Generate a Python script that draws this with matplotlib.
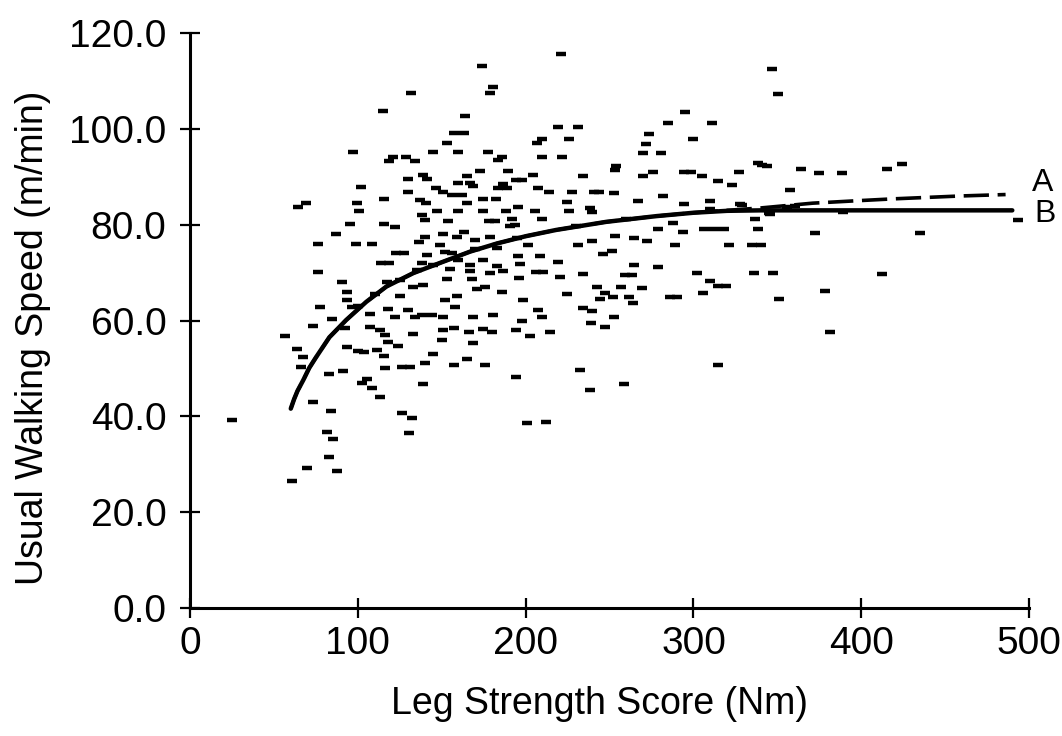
import numpy as np
import matplotlib
matplotlib.use("Agg")
import matplotlib.pyplot as plt

plt.rcParams['font.family'] = ['Liberation Sans', 'DejaVu Sans']

# (leg strength Nm, usual walking speed m/min)
subjects = [
    (173.8, 113.2), (180.8, 108.7), (178.8, 107.5), (131.7, 107.5), (115.2, 103.8), (163.9, 102.6),
    (157.5, 99.2), (163.0, 99.2), (153.0, 97.0), (97.0, 95.1), (145.0, 95.1), (159.5, 95.1),
    (177.8, 95.1), (120.8, 94.1), (118.8, 93.2), (128.7, 94.2), (134.1, 93.2), (183.7, 93.5),
    (172.8, 91.2), (138.7, 90.4), (141.0, 89.5), (130.1, 89.5), (164.9, 90.2), (166.9, 88.7),
    (168.8, 88.0), (159.5, 88.7), (101.7, 87.8), (146.6, 87.6), (151.0, 86.9), (156.0, 86.2),
    (161.9, 86.2), (183.7, 87.7), (130.1, 86.9), (115.8, 85.3), (137.1, 85.2), (140.6, 84.5),
    (174.8, 85.3), (182.4, 85.3), (164.9, 84.5), (64.6, 83.6), (69.1, 84.5), (99.7, 84.5),
    (100.9, 82.9), (147.0, 82.9), (159.5, 82.9), (174.8, 82.9), (138.1, 82.0), (140.0, 81.0),
    (153.6, 80.8), (178.0, 80.8), (181.5, 80.8), (95.0, 80.2), (115.8, 80.2), (122.2, 79.5),
    (220.9, 115.6), (219.1, 100.3), (231.0, 100.3), (209.6, 97.8), (206.6, 97.0), (225.9, 98.0),
    (209.6, 94.1), (221.9, 94.1), (185.8, 94.1), (189.7, 91.2), (204.6, 90.3), (194.5, 89.4),
    (198.0, 89.4), (186.7, 88.5), (188.7, 87.7), (207.6, 87.6), (213.9, 86.8), (227.8, 86.8),
    (241.0, 86.8), (243.8, 86.8), (252.7, 86.6), (234.4, 90.2), (253.3, 91.4), (253.8, 92.2),
    (270.2, 90.2), (276.1, 91.1), (294.5, 91.1), (298.3, 91.1), (304.9, 90.2), (270.2, 94.9),
    (280.4, 94.9), (271.8, 96.9), (273.7, 99.0), (284.7, 101.3), (295.0, 103.6), (310.8, 101.2),
    (300.0, 98.0), (314.9, 89.2), (266.8, 85.0), (282.1, 85.9), (294.6, 84.3), (309.9, 85.0),
    (224.5, 84.8), (225.9, 82.9), (238.4, 83.4), (239.4, 82.7), (205.6, 82.9), (195.7, 83.6),
    (188.3, 82.9), (209.6, 81.2), (191.7, 81.2), (193.7, 80.0), (288.0, 80.3),
    (86.8, 78.0), (76.1, 76.0), (98.7, 76.0), (108.7, 76.0), (140.0, 77.4), (136.7, 76.3),
    (151.0, 78.0), (158.9, 77.5), (163.3, 78.4), (169.8, 76.8), (178.8, 77.5), (149.0, 75.8),
    (152.0, 74.4), (123.0, 74.2), (127.2, 74.2), (141.0, 73.7), (156.0, 74.0), (159.9, 72.7),
    (166.9, 71.6), (174.8, 72.7), (182.8, 71.3), (114.0, 72.0), (118.4, 72.0), (138.1, 72.0),
    (76.1, 70.1), (155.0, 70.7), (166.9, 70.4), (153.0, 68.6), (167.9, 68.6), (178.8, 69.9),
    (133.1, 67.1), (139.0, 67.4), (90.4, 68.1), (93.4, 66.0), (117.2, 68.1), (125.1, 65.1),
    (170.8, 66.5), (175.8, 67.1), (152.0, 64.3), (158.9, 65.1), (157.9, 62.9), (93.4, 64.3),
    (96.4, 62.9), (77.5, 62.9), (107.3, 61.4), (118.2, 62.4), (122.2, 60.8), (130.1, 62.2),
    (134.1, 60.8), (138.1, 61.2), (144.0, 61.2), (151.0, 60.8), (168.8, 60.8), (180.8, 61.2),
    (84.4, 60.3), (73.5, 58.9), (92.4, 58.4), (107.3, 58.6), (113.2, 58.0), (116.2, 57.0),
    (118.2, 55.6), (124.1, 54.7), (133.1, 57.1), (151.0, 58.0), (157.0, 58.4), (166.3, 57.7),
    (174.8, 58.2), (179.7, 57.7), (150.0, 56.0), (168.8, 55.3), (56.6, 56.8), (93.4, 54.4),
    (63.6, 54.0), (67.5, 52.3), (66.1, 50.4), (103.9, 53.4), (111.3, 53.9), (115.6, 52.5),
    (145.0, 53.0), (164.9, 51.9), (175.8, 50.7), (157.0, 50.7), (140.0, 51.2), (131.1, 50.4),
    (126.2, 50.4), (116.2, 50.0), (91.4, 49.5), (83.0, 48.9), (105.3, 47.7), (102.3, 46.9),
    (108.3, 45.9), (138.7, 46.7), (113.2, 44.1), (73.5, 42.9), (84.0, 41.1), (126.2, 40.6),
    (132.1, 39.7),
    (190.7, 79.7), (279.1, 79.1), (293.6, 78.4), (306.0, 79.1), (253.3, 77.7), (264.6, 77.2),
    (272.2, 76.5), (239.8, 76.5), (231.4, 75.8), (289.0, 75.8), (201.6, 75.8), (182.8, 75.1),
    (246.3, 73.9), (251.3, 74.5), (195.7, 73.5), (208.6, 73.5), (219.5, 72.3), (196.7, 71.8),
    (264.6, 71.6), (279.1, 71.1), (186.7, 70.4), (206.0, 70.1), (210.5, 70.1), (234.4, 69.7),
    (259.0, 69.5), (263.4, 69.5), (302.0, 70.0), (309.9, 68.3), (196.3, 68.8), (220.5, 69.0),
    (185.8, 66.0), (224.8, 65.6), (242.7, 67.0), (247.3, 65.8), (251.9, 64.9), (244.3, 64.4),
    (256.9, 67.0), (269.2, 66.7), (261.8, 65.0), (263.8, 63.6), (285.8, 65.0), (290.2, 65.0),
    (305.9, 65.8), (198.2, 64.2), (207.6, 62.1), (209.6, 60.7), (198.0, 59.9), (234.4, 62.7),
    (239.8, 61.9), (252.7, 60.7), (238.8, 59.4), (247.3, 58.7), (194.3, 58.0), (202.6, 56.8),
    (214.5, 57.6), (194.3, 48.3), (232.4, 49.7), (238.4, 45.5), (258.6, 46.7), (200.7, 38.7),
    (212.2, 38.9), (314.9, 50.7),
    (347.0, 112.5), (350.6, 107.2), (322.8, 88.3), (327.2, 91.0), (338.7, 92.8), (341.0, 92.5),
    (344.0, 92.3), (363.9, 91.7), (374.8, 90.9), (388.4, 90.9), (415.6, 91.7), (424.1, 92.7),
    (357.6, 87.3), (327.8, 84.3), (336.7, 81.2), (345.6, 82.3), (312.0, 79.1), (318.0, 79.1),
    (338.7, 79.1), (372.5, 78.3), (389.3, 82.7), (435.0, 78.2), (321.4, 75.8), (334.7, 75.8),
    (340.1, 75.8), (336.3, 69.9), (347.3, 69.9), (412.2, 69.7), (314.5, 67.2), (319.3, 67.2),
    (351.2, 64.4), (378.6, 66.2), (381.4, 57.7), (310.0, 83.3), (328.8, 84.1), (345.0, 82.5),
    (355.6, 83.8), (360.5, 83.9),
    (25.2, 39.2), (81.5, 36.8), (85.4, 35.2), (83.0, 31.5), (87.8, 28.5), (69.5, 29.2),
    (60.6, 26.6), (100.3, 53.7), (130.7, 36.6), (493.6, 81.0),
    (100.0, 63.0), (110.0, 65.5), (125.0, 68.5), (135.0, 70.5), (145.0, 71.5), (170.0, 75.0),
    (195.0, 77.3), (230.0, 79.8), (260.0, 81.2),
]
strength = np.array([p[0] for p in subjects])
speed = np.array([p[1] for p in subjects])

# fitted curves, read at points along the lines
curve_b_x = [60, 62, 64, 67.5, 71, 75, 83, 93, 105, 117, 133, 151, 167, 183, 200, 218, 248, 278, 300, 320, 340, 400, 490]
curve_b_y = [41.6, 43.6, 45.3, 47.6, 50.1, 52.3, 56.5, 60.1, 63.9, 67.1, 69.9, 72.3, 74.4, 76.1, 77.6, 78.9, 80.6, 81.8, 82.5, 82.9, 83.0, 83.0, 83.0]
curve_a_x = [60, 62, 64, 67.5, 71, 75, 83, 93, 105, 117, 133, 151, 167, 183, 200, 218, 248, 278, 300, 320, 340, 371, 397, 419, 439, 459, 486]
curve_a_y = [41.6, 43.6, 45.3, 47.6, 50.1, 52.3, 56.5, 60.1, 63.9, 67.1, 69.9, 72.3, 74.4, 76.1, 77.6, 78.9, 80.6, 81.8, 82.5, 83.0, 83.5, 84.5, 85.0, 85.4, 85.7, 86.0, 86.3]

x_ticks = [0, 100, 200, 300, 400, 500]
y_ticks = [0, 20, 40, 60, 80, 100, 120]

fig = plt.figure(figsize=(10.62, 7.36), dpi=100)
ax = fig.add_axes([0.179, 0.174, 0.790, 0.781])

ax.plot(strength, speed, linestyle='none', marker='_', markersize=7,
        markeredgewidth=3.2, color='black')
ax.plot(curve_a_x, curve_a_y, color='black', lw=2.6, dashes=(7, 2.4))
ax.plot(curve_b_x, curve_b_y, color='black', lw=3.2, solid_capstyle='round')

ax.text(502, 88.7, 'A', fontsize=23, ha='left', va='center', clip_on=False)
ax.text(503, 82.3, 'B', fontsize=23, ha='left', va='center', clip_on=False)

ax.set_xlim(0, 500)
ax.set_ylim(0, 120)
ax.set_xticks(x_ticks)
ax.set_yticks(y_ticks)
ax.set_yticklabels([f"{v:.1f}" for v in y_ticks])

for side in ['top', 'right']:
    ax.spines[side].set_visible(False)
for side in ['left', 'bottom']:
    ax.spines[side].set_linewidth(2.2)

ax.tick_params(axis='both', direction='inout', length=14, width=1.6, labelsize=28)
ax.tick_params(axis='y', pad=10)
ax.tick_params(axis='x', pad=6)

ax.set_xlabel('Leg Strength Score (Nm)', fontsize=27)
ax.set_ylabel('Usual Walking Speed (m/min)', fontsize=27)
ax.xaxis.set_label_coords(0.4875, -0.135)
ax.yaxis.set_label_coords(-0.166, 0.47)

fig.savefig('out.png', dpi=100, facecolor='white')
